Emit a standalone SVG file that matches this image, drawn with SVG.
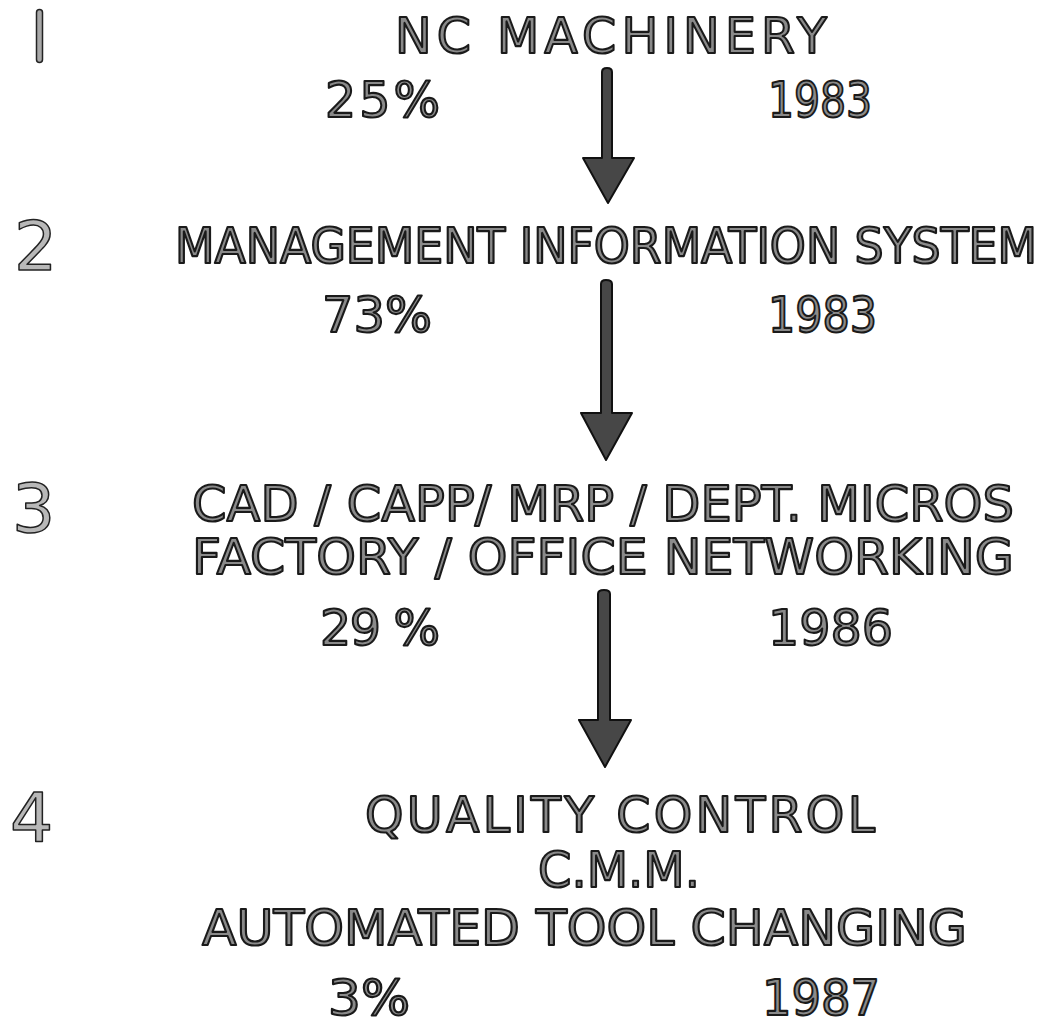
<svg xmlns="http://www.w3.org/2000/svg" width="1056" height="1026" viewBox="0 0 1056 1026">
  <style>
    .t { font-family: "DejaVu Sans", "Liberation Sans", sans-serif; font-size: 49px; fill: #8a8a8a; stroke: #1a1a1a; stroke-width: 2.1px; stroke-linejoin: round; }
    .cond { font-family: "DejaVu Sans Condensed", "DejaVu Sans", "Liberation Sans", sans-serif; font-stretch: condensed; }
    .num { font-family: "DejaVu Sans", "Liberation Sans", sans-serif; font-size: 68px; fill: #b8b8b8; stroke: #222222; stroke-width: 1.5px; stroke-linejoin: round; }
    .bar { fill: #a8a8a8; stroke: #222222; stroke-width: 1.5px; }
    .arrow { fill: #474747; stroke: #111111; stroke-width: 2px; stroke-linejoin: round; }
  </style>
  <rect width="1056" height="1026" fill="#ffffff"/>

  <g id="node-1">
    <rect class="bar" x="36.5" y="9.5" width="6" height="53" rx="3"/>
    <text class="t" x="395" y="53" textLength="432" lengthAdjust="spacing">NC  MACHINERY</text>
    <text class="t" x="325" y="117" textLength="115" lengthAdjust="spacing">25%</text>
    <text class="t" x="768" y="117" textLength="104" lengthAdjust="spacingAndGlyphs">1983</text>
  </g>

  <g id="node-2">
    <text class="num" x="14" y="270">2</text>
    <text class="t cond" x="175" y="263" textLength="862" lengthAdjust="spacingAndGlyphs">MANAGEMENT INFORMATION SYSTEM</text>
    <text class="t" x="322" y="332" textLength="110" lengthAdjust="spacingAndGlyphs">73%</text>
    <text class="t" x="768" y="332" textLength="109" lengthAdjust="spacingAndGlyphs">1983</text>
  </g>

  <g id="node-3">
    <text class="num" x="12" y="532">3</text>
    <text class="t" x="192" y="521" textLength="822" lengthAdjust="spacingAndGlyphs">CAD / CAPP/ MRP / DEPT. MICROS</text>
    <text class="t" x="192" y="574" textLength="822" lengthAdjust="spacingAndGlyphs">FACTORY / OFFICE NETWORKING</text>
    <text class="t" x="320" y="645" textLength="120" lengthAdjust="spacing">29 %</text>
    <text class="t" x="768" y="645" textLength="125" lengthAdjust="spacingAndGlyphs">1986</text>
  </g>

  <g id="node-4">
    <text class="num" x="10" y="842">4</text>
    <text class="t" x="365" y="832" textLength="510" lengthAdjust="spacing">QUALITY  CONTROL</text>
    <text class="t" x="538" y="887" textLength="162" lengthAdjust="spacingAndGlyphs">C.M.M.</text>
    <text class="t" x="202" y="945" textLength="765" lengthAdjust="spacingAndGlyphs">AUTOMATED  TOOL  CHANGING</text>
    <text class="t" x="328" y="1015" textLength="82" lengthAdjust="spacingAndGlyphs">3%</text>
    <text class="t" x="762" y="1015" textLength="118" lengthAdjust="spacingAndGlyphs">1987</text>
  </g>

  <g id="connectors">
    <path class="arrow" d="M602,72 Q602,68 607,68 Q612,68 612,72 L612,158 L634,158 L608,203 L583,158 L602,158 Z"/>
    <path class="arrow" d="M601,284 Q601,280 606,280 Q612,280 612,284 L612,413 L632,413 L606,460 L581,413 L601,413 Z"/>
    <path class="arrow" d="M598,594 Q598,590 604,590 Q610,590 610,594 L610,720 L631,720 L605,767 L579,720 L598,720 Z"/>
  </g>
</svg>
